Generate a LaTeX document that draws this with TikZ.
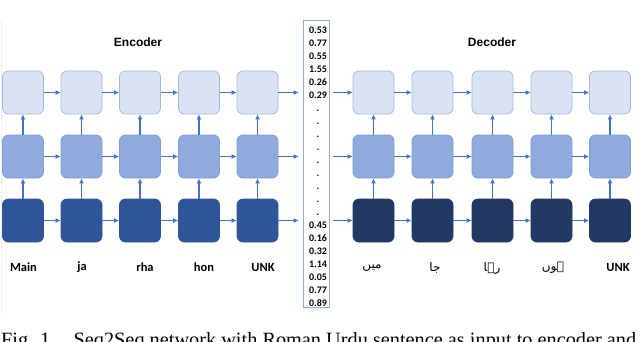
\documentclass[tikz,border=0pt]{standalone}
\usepackage{fontspec}
\setmainfont{Liberation Serif}
\newfontfamily\titlefont{Liberation Sans}
\newfontfamily\labelfont{Carlito}
\newfontfamily\urdufont[Script=Arabic]{DejaVu Sans}
\TeXXeTstate=1
\usepackage{xcolor}
\usepackage{tikz}
\usetikzlibrary{arrows.meta}
\definecolor{arrowblue}{HTML}{4472C4}
\definecolor{lightfill}{HTML}{DAE3F3}
\definecolor{lightline}{HTML}{A3B8E0}
\definecolor{midfill}{HTML}{8FAADC}
\definecolor{midline}{HTML}{7F9DD6}
\definecolor{encdark}{HTML}{2F5597}
\definecolor{decdark}{HTML}{203864}
\tikzset{
  cell/.style={rounded corners=6pt, minimum width=41pt, minimum height=43pt, line width=0.8pt, inner sep=0pt},
  toprow/.style={cell, fill=lightfill, draw=lightline},
  midrow/.style={cell, fill=midfill, draw=midline},
  encrow/.style={cell, fill=encdark, draw=encdark},
  decrow/.style={cell, fill=decdark, draw=decdark},
  flow/.style={draw=arrowblue, line width=1.1pt, -{Latex[length=5pt,width=5pt]}},
  wordlabel/.style={font=\labelfont\bfseries\fontsize{12.5}{14}\selectfont},
  urdulabel/.style={font=\urdufont\fontsize{12}{14}\selectfont}
}
\begin{document}
\begin{tikzpicture}[x=1pt,y=-1pt]
\useasboundingbox (0,0) rectangle (640,341);
\draw[gray!12, line width=0.6pt] (1,20) -- (1,313);
% titles
\node[font=\titlefont\bfseries\fontsize{12}{14}\selectfont] (enctitle) at (138,42) {Encoder};
\node[font=\titlefont\bfseries\fontsize{12}{14}\selectfont] (dectitle) at (492,42) {Decoder};
% encoder cells
\node[toprow] (et1) at (23,92.5) {};
\node[toprow] (et2) at (81.5,92.5) {};
\node[toprow] (et3) at (140,92.5) {};
\node[toprow] (et4) at (199,92.5) {};
\node[toprow] (et5) at (257.5,92.5) {};
\node[midrow] (em1) at (23,156.5) {};
\node[midrow] (em2) at (81.5,156.5) {};
\node[midrow] (em3) at (140,156.5) {};
\node[midrow] (em4) at (199,156.5) {};
\node[midrow] (em5) at (257.5,156.5) {};
\node[encrow] (eb1) at (23,220.5) {};
\node[encrow] (eb2) at (81.5,220.5) {};
\node[encrow] (eb3) at (140,220.5) {};
\node[encrow] (eb4) at (199,220.5) {};
\node[encrow] (eb5) at (257.5,220.5) {};
% context vector
\node[draw=midfill, line width=0.6pt, minimum width=26pt, minimum height=287pt, inner sep=0pt] (vec) at (316,163.5) {};
\node[anchor=north, inner sep=0pt, align=center, font=\labelfont\bfseries\fontsize{10}{13}\selectfont] (vals) at (318,26.5)
  {0.53\\0.77\\0.55\\1.55\\0.26\\0.29\\.\\.\\.\\.\\.\\.\\.\\.\\.\\0.45\\0.16\\0.32\\1.14\\0.05\\0.77\\0.89};
% decoder cells
\node[toprow] (dt1) at (373.5,92.5) {};
\node[toprow] (dt2) at (432.5,92.5) {};
\node[toprow] (dt3) at (492.5,92.5) {};
\node[toprow] (dt4) at (551.5,92.5) {};
\node[toprow] (dt5) at (610,92.5) {};
\node[midrow] (dm1) at (373.5,156.5) {};
\node[midrow] (dm2) at (432.5,156.5) {};
\node[midrow] (dm3) at (492.5,156.5) {};
\node[midrow] (dm4) at (551.5,156.5) {};
\node[midrow] (dm5) at (610,156.5) {};
\node[decrow] (db1) at (373.5,220.5) {};
\node[decrow] (db2) at (432.5,220.5) {};
\node[decrow] (db3) at (492.5,220.5) {};
\node[decrow] (db4) at (551.5,220.5) {};
\node[decrow] (db5) at (610,220.5) {};
% encoder arrows
\draw[flow] (et1) -- (et2);
\draw[flow] (et2) -- (et3);
\draw[flow] (et3) -- (et4);
\draw[flow] (et4) -- (et5);
\draw[flow] (em1) -- (em2);
\draw[flow] (em2) -- (em3);
\draw[flow] (em3) -- (em4);
\draw[flow] (em4) -- (em5);
\draw[flow] (eb1) -- (eb2);
\draw[flow] (eb2) -- (eb3);
\draw[flow] (eb3) -- (eb4);
\draw[flow] (eb4) -- (eb5);
\draw[flow] (eb1) -- (em1);
\draw[flow] (eb2) -- (em2);
\draw[flow] (eb3) -- (em3);
\draw[flow] (eb4) -- (em4);
\draw[flow] (eb5) -- (em5);
\draw[flow] (em1) -- (et1);
\draw[flow] (em2) -- (et2);
\draw[flow] (em3) -- (et3);
\draw[flow] (em4) -- (et4);
\draw[flow] (em5) -- (et5);
\draw[flow] (et5.east) -- ([xshift=-4pt]et5.east -| vec.west);
\draw[flow] (em5.east) -- ([xshift=-4pt]em5.east -| vec.west);
\draw[flow] (eb5.east) -- ([xshift=-4pt]eb5.east -| vec.west);
% vector to decoder
\draw[flow] ([xshift=4pt]vec.east |- dt1.west) -- (dt1.west);
\draw[flow] ([xshift=4pt]vec.east |- dm1.west) -- (dm1.west);
\draw[flow] ([xshift=4pt]vec.east |- db1.west) -- (db1.west);
% decoder arrows
\draw[flow] (dt1) -- (dt2);
\draw[flow] (dt2) -- (dt3);
\draw[flow] (dt3) -- (dt4);
\draw[flow] (dt4) -- (dt5);
\draw[flow] (dm1) -- (dm2);
\draw[flow] (dm2) -- (dm3);
\draw[flow] (dm3) -- (dm4);
\draw[flow] (dm4) -- (dm5);
\draw[flow] (db1) -- (db2);
\draw[flow] (db2) -- (db3);
\draw[flow] (db3) -- (db4);
\draw[flow] (db4) -- (db5);
\draw[flow] (db1) -- (dm1);
\draw[flow] (db2) -- (dm2);
\draw[flow] (db3) -- (dm3);
\draw[flow] (db4) -- (dm4);
\draw[flow] (db5) -- (dm5);
\draw[flow] (dm1) -- (dt1);
\draw[flow] (dm2) -- (dt2);
\draw[flow] (dm3) -- (dt3);
\draw[flow] (dm4) -- (dt4);
\draw[flow] (dm5) -- (dt5);
% input words
\node[wordlabel] (w1) at (23.5,267) {Main};
\node[wordlabel] (w2) at (82,267) {ja};
\node[wordlabel] (w3) at (145,267) {rha};
\node[wordlabel] (w4) at (204,267) {hon};
\node[wordlabel] (w5) at (263,267) {UNK};
% output words
\node[urdulabel] (u1) at (372,268) {\beginR میں\endR};
\node[urdulabel] (u2) at (435,268) {\beginR جا\endR};
\node[urdulabel] (u3) at (492,268) {\beginR رہا\endR};
\node[urdulabel] (u4) at (553,268) {\beginR ہوں\endR};
\node[wordlabel] (u5) at (618,267) {UNK};
% caption
\node[anchor=base west, inner sep=0pt, font=\fontsize{20.3}{24}\selectfont] (caption) at (1,346)
  {Fig. 1.\hspace{0.9em}Seq2Seq network with Roman Urdu sentence as input to encoder and};
\end{tikzpicture}
\end{document}
